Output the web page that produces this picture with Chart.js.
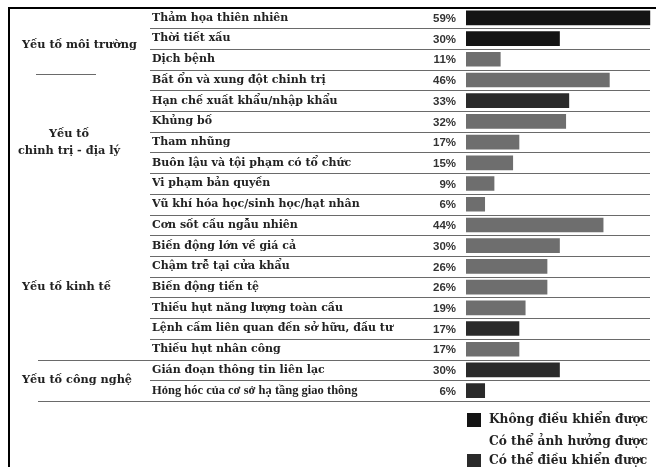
<!DOCTYPE html>
<html>
<head>
<meta charset="utf-8">
<script src="https://cdn.jsdelivr.net/npm/chart.js@4"></script>
<style>
  html, body { margin: 0; padding: 0; background: #fff; }
  #wrap { position: relative; width: 656px; height: 467px; overflow: hidden; }
</style>
</head>
<body>
<div id="wrap"><canvas id="chart" width="656" height="467"></canvas></div>
<script>
const categories = [
    'Thảm họa thiên nhiên',
    'Thời tiết xấu',
    'Dịch bệnh',
    'Bất ổn và xung đột chinh trị',
    'Hạn chế xuất khẩu/nhập khẩu',
    'Khủng bố',
    'Tham nhũng',
    'Buôn lậu và tội phạm có tổ chức',
    'Vi phạm bản quyền',
    'Vũ khí hóa học/sinh học/hạt nhân',
    'Cơn sốt cầu ngẫu nhiên',
    'Biến động lớn về giá cả',
    'Chậm trễ tại cửa khẩu',
    'Biến động tiền tệ',
    'Thiếu hụt năng lượng toàn cầu',
    'Lệnh cấm liên quan đến sở hữu, đầu tư',
    'Thiếu hụt nhân công',
    'Gián đoạn thông tin liên lạc',
    'Hỏng hóc của cơ sở hạ tầng giao thông'
];
const values = [59, 30, 11, 46, 33, 32, 17, 15, 9, 6, 44, 30, 26, 26, 19, 17, 17, 30, 6];
// 0 = không điều khiển được, 1 = có thể ảnh hưởng được, 2 = có thể điều khiển được
const controlType = [0, 0, 1, 1, 2, 1, 1, 1, 1, 1, 1, 1, 1, 1, 1, 2, 1, 2, 2];
const seriesNames = ['Không điều khiển được', 'Có thể ảnh hưởng được', 'Có thể điều khiển được'];
const groupNames = ['Yếu tố môi trường', 'Yếu tố\nchinh trị - địa lý', 'Yếu tố kinh tế', 'Yếu tố công nghệ'];
const groupFirst = [0, 3, 10, 17];
const groupLast = [2, 9, 16, 18];

const colors = ['#141414', '#6e6e6e', '#2a2a2a'];
const serif = '"DejaVu Serif", serif';

const datasets = seriesNames.map((name, t) => ({
    label: name,
    data: values.map((v, i) => (controlType[i] === t ? v : null)),
    backgroundColor: colors[t],
    borderWidth: 0,
    barThickness: 14,
    grouped: false,
}));

const decor = {
    id: 'decor',
    beforeDraw(chart) {
        const c = chart.ctx;
        const y = chart.scales.y;
        const right = 650;
        const half = (y.getPixelForValue(1) - y.getPixelForValue(0)) / 2;
        c.save();
        // frame
        c.strokeStyle = '#000';
        c.lineWidth = 2;
        c.beginPath();
        c.moveTo(9, 467);
        c.lineTo(9, 8);
        c.lineTo(656, 8);
        c.stroke();
        // row separators
        c.lineWidth = 1;
        c.strokeStyle = '#6a6a6a';
        for (let i = 0; i < categories.length; i++) {
            const yy = Math.round(y.getPixelForValue(i) + half) + 0.5;
            let x0 = 150;
            if (i === 16 || i === 18) x0 = 38;
            c.beginPath();
            c.moveTo(x0, yy);
            c.lineTo(right, yy);
            c.stroke();
        }
        // small divider in the group column under the first group
        const yd = Math.round(y.getPixelForValue(groupLast[0]) + half + 4) + 0.5;
        c.beginPath();
        c.moveTo(36, yd);
        c.lineTo(96, yd);
        c.stroke();
        c.restore();
    },
    afterDraw(chart) {
        const c = chart.ctx;
        const y = chart.scales.y;
        const area = chart.chartArea;
        c.save();
        // percentages
        c.font = 'bold 11.5px "Liberation Sans", Arial, sans-serif';
        c.fillStyle = '#333';
        c.textAlign = 'right';
        c.textBaseline = 'middle';
        values.forEach((v, i) => {
            c.fillText(v + '%', area.left - 10, y.getPixelForValue(i) + 1);
        });
        // group labels
        c.font = 'bold 11.3px ' + serif;
        c.fillStyle = '#222';
        groupNames.forEach((g, k) => {
            const mid = (y.getPixelForValue(groupFirst[k]) + y.getPixelForValue(groupLast[k])) / 2;
            const lines = g.split('\n');
            lines.forEach((ln, j) => {
                const yy = mid + (j - (lines.length - 1) / 2) * 17 + (k === 0 ? 7 : 0);
                if (lines.length > 1) {
                    c.textAlign = 'center';
                    c.fillText(ln, 69, yy);
                } else {
                    c.textAlign = 'left';
                    c.fillText(ln, 22, yy);
                }
            });
        });
        // legend
        const legendY = [420, 442, 461];
        c.textAlign = 'left';
        c.font = 'bold 12.2px ' + serif;
        chart.data.datasets.forEach((ds, t) => {
            if (t !== 1) {
                c.fillStyle = ds.backgroundColor;
                c.fillRect(467, legendY[t] - 7, 14, 14);
            }
            c.fillStyle = '#222';
            c.fillText(ds.label, 489, legendY[t]);
        });
        c.restore();
    }
};

new Chart(document.getElementById('chart'), {
    type: 'bar',
    data: { labels: categories, datasets },
    options: {
        indexAxis: 'y',
        responsive: false,
        animation: false,
        layout: { padding: { left: 152, right: 3, top: 6, bottom: 66 } },
        scales: {
            x: { display: false, min: 0, max: 60 },
            y: {
                afterFit(scale) { scale.width = 314; },
                border: { display: false },
                grid: { display: false },
                ticks: {
                    crossAlign: 'far',
                    color: '#222',
                    padding: 0,
                    font: (ctx) => (ctx.index === 18
                        ? { family: '"Liberation Serif", serif', size: 12.5, weight: 'bold' }
                        : { family: serif, size: 11, weight: 'bold' }),
                },
            },
        },
        plugins: {
            legend: { display: false },
            tooltip: { enabled: false },
        },
    },
    plugins: [decor],
});
</script>
</body>
</html>
